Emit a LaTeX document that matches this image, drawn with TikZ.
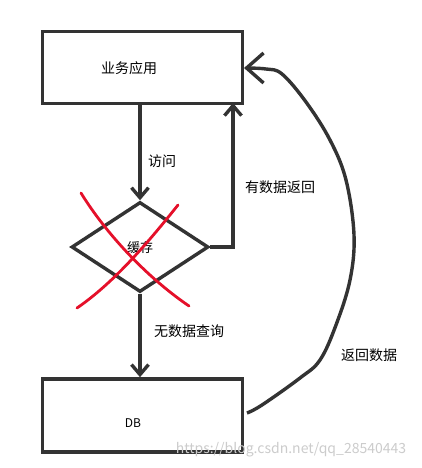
\documentclass[tikz,border=0pt]{standalone}
\usepackage{fontspec}
\setmainfont{Noto Sans CJK SC}
\usetikzlibrary{arrows.meta,shapes.geometric,calc}
\definecolor{ink}{HTML}{333333}
\definecolor{xred}{HTML}{E5102A}
\begin{document}
\begin{tikzpicture}[x=1pt,y=-1pt,
  box/.style={draw=ink,line width=3.6pt,rectangle,minimum width=200pt,minimum height=72pt,inner sep=0pt},
  dia/.style={draw=ink,line width=3.4pt,diamond,minimum width=137pt,minimum height=90pt,inner sep=0pt},
  lab/.style={font=\fontsize{14}{16}\selectfont,inner sep=0pt,text=black},
  arr/.style={draw=ink,line width=3.4pt,-{Straight Barb[length=10pt,width=17pt]}},
  xline/.style={draw=xred,line width=2.8pt,line cap=round}]
\useasboundingbox (0,0) rectangle (422,468);
\fill[white] (0,0) rectangle (422,468);
\node[box] (app) at (142.5,67.5) {};
\node[lab] (apptext) at (129,68) {业务应用};
\node[dia] (cache) at (140,247) {};
\node[lab,font=\fontsize{13}{15}\selectfont] (cachetext) at (140,248) {缓存};
\node[box,minimum height=73pt] (db) at (142.5,415.5) {};
\node[lab,font=\fontsize{12}{14}\selectfont] (dbtext) at (133,423) {DB};
\coordinate (rx) at (233,103);
\draw[arr] (cache.north |- app.south) -- (cache.north);
\draw[arr] (cache.east) -| (rx);
\draw[arr] (cache.south) -- (cache.south |- db.north);
\draw[draw=ink,line width=3.4pt,-{Straight Barb[length=17pt,width=30pt]}]
  plot[smooth,tension=0.6] coordinates {(247,413) (262,405) (300,378) (320,360) (336,325) (350,280) (354,235) (346,180) (330,140) (306,102) (282,74) (266,69) (244,68)};
\node[lab] (visit) at (162,161) {访问};
\node[lab] (hit) at (280,187) {有数据返回};
\node[lab] (miss) at (189,331) {无数据查询};
\node[lab] (ret) at (369,355) {返回数据};
\draw[xline] (81,193) .. controls (105,232) and (145,276) .. (189,306);
\draw[xline] (178,205) .. controls (150,240) and (115,282) .. (77,308);
\node[font=\fontsize{14}{16}\selectfont,text=gray!40,inner sep=0pt] (wm) at (291,450) {https://blog.csdn.net/qq\_28540443};
\end{tikzpicture}
\end{document}
